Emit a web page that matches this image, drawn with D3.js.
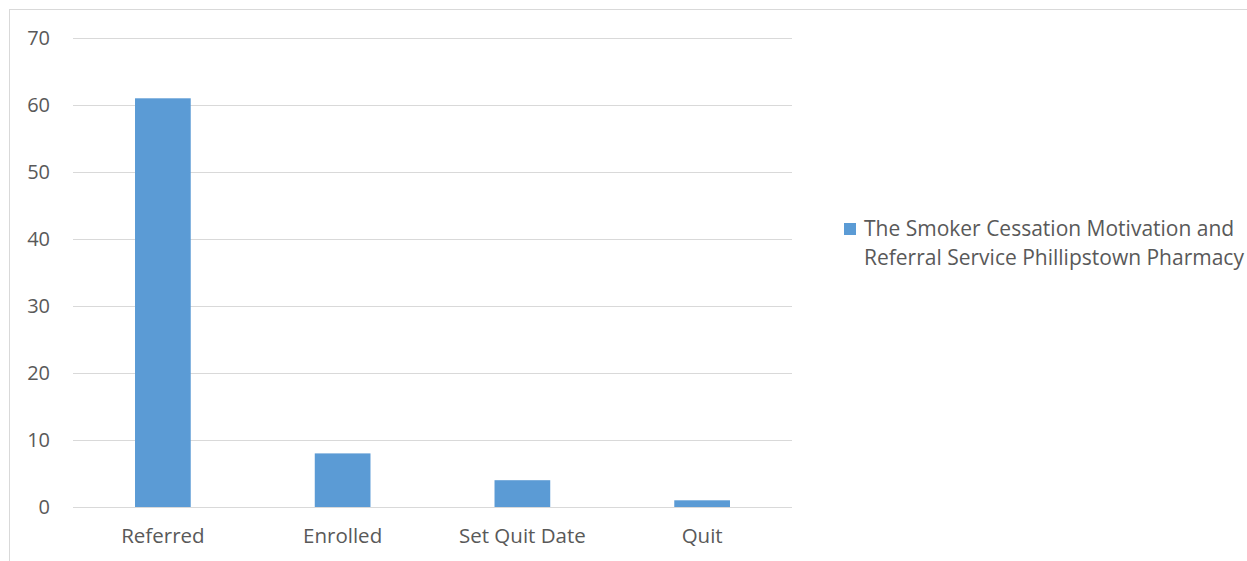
<!DOCTYPE html>
<html>
<head>
<meta charset="utf-8">
<script src="https://cdn.jsdelivr.net/npm/d3@7"></script>
<style>
  html, body { margin: 0; padding: 0; background: #fff; }
  svg { display: block; }
  text { font-family: "Open Sans", sans-serif; fill: #595959; }
</style>
</head>
<body>
<svg id="chart" width="1247" height="561"></svg>
<script>
// Smoking cessation referral pipeline, Phillipstown Pharmacy
const categories = ["Referred", "Enrolled", "Set Quit Date", "Quit"];
const values = [61, 8, 4, 1];
const yTicks = [0, 10, 20, 30, 40, 50, 60, 70];
const seriesName = ["The Smoker Cessation Motivation and", "Referral Service Phillipstown Pharmacy"];

const svg = d3.select("#chart");

// outer chart frame
svg.append("rect")
  .attr("x", 9.5).attr("y", 9.5)
  .attr("width", 1300).attr("height", 600)
  .attr("fill", "none").attr("stroke", "#d9d9d9").attr("stroke-width", 1);

const plot = { left: 73, right: 792, top: 38, bottom: 507 };

const x = d3.scaleBand()
  .domain(categories)
  .range([plot.left, plot.right])
  .paddingInner(0.69)
  .paddingOuter(0.345);

const y = d3.scaleLinear()
  .domain([0, 70])
  .range([plot.bottom, plot.top]);

// horizontal gridlines
svg.append("g")
  .selectAll("line")
  .data(yTicks)
  .join("line")
  .attr("x1", plot.left).attr("x2", plot.right)
  .attr("y1", d => Math.round(y(d)) + 0.5).attr("y2", d => Math.round(y(d)) + 0.5)
  .attr("stroke", "#d9d9d9").attr("stroke-width", 1);

// y axis labels
const yAxis = d3.axisLeft(y).tickValues(yTicks).tickSize(0).tickPadding(0);
const gy = svg.append("g").attr("transform", "translate(50,0)").call(yAxis);
gy.attr("font-size", null).attr("font-family", null);
gy.select(".domain").remove();
gy.selectAll("text")
  .style("font-size", "20px")
  .style("fill", "#595959");

// bars
svg.append("g")
  .selectAll("rect")
  .data(values)
  .join("rect")
  .attr("x", (d, i) => x(categories[i]))
  .attr("width", x.bandwidth())
  .attr("y", d => y(d))
  .attr("height", d => y(0) - y(d))
  .attr("fill", "#5b9bd5");

// x axis labels
const xAxis = d3.axisBottom(x).tickSize(0).tickPadding(0);
const gx = svg.append("g").attr("transform", `translate(0,${plot.bottom + 21})`).call(xAxis);
gx.attr("font-size", null).attr("font-family", null);
gx.select(".domain").remove();
gx.selectAll("text")
  .style("font-size", "20.5px")
  .style("fill", "#595959");

// legend
const legend = svg.append("g");
legend.append("rect")
  .attr("x", 844).attr("y", 223)
  .attr("width", 12).attr("height", 12)
  .attr("fill", "#5b9bd5");
legend.selectAll("text")
  .data(seriesName)
  .join("text")
  .attr("x", 864)
  .attr("y", (d, i) => 236 + i * 29)
  .style("font-size", "21px")
  .text(d => d);
</script>
</body>
</html>
